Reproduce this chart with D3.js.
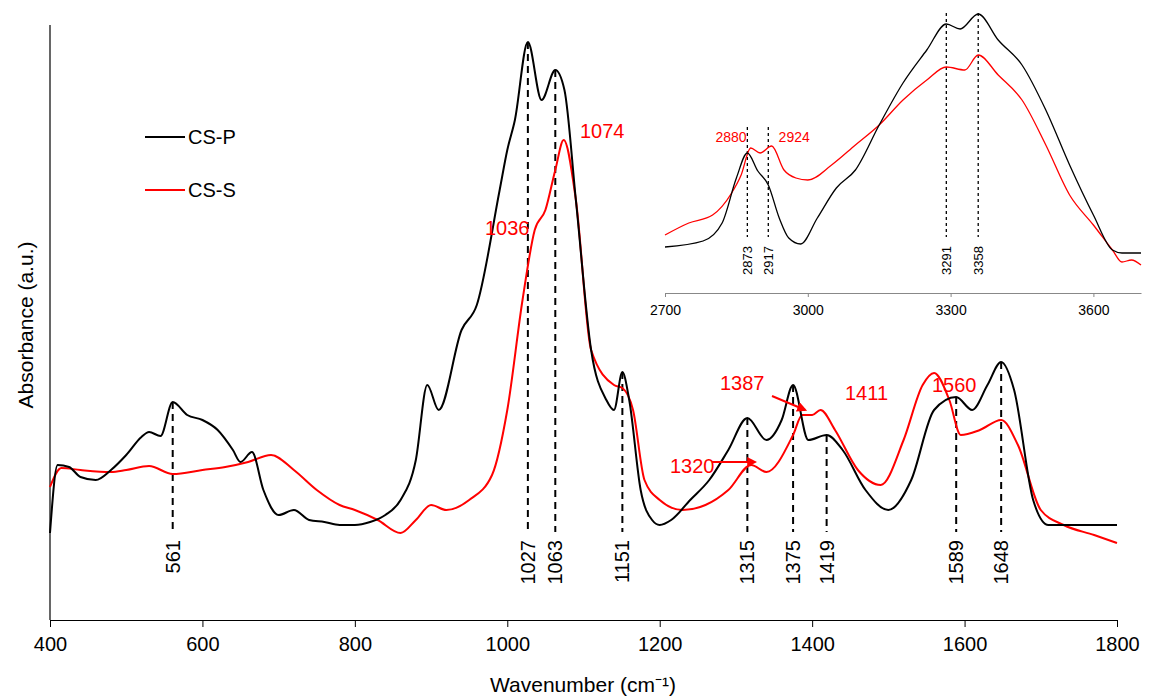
<!DOCTYPE html>
<html><head><meta charset="utf-8">
<script src="https://cdn.jsdelivr.net/npm/d3@7"></script>
<style>body{margin:0;background:#fff}text{font-family:Arial,"Liberation Sans",sans-serif}</style>
</head><body><svg id="c" width="1153" height="698"></svg>
<script>
// Main spectrum (wavenumber, absorbance in arbitrary units)
const wnP = [400,410,425,440,460,480,500,520,530,545,561,580,600,620,640,650,665,680,700,720,740,760,780,800,820,840,860,880,895,910,940,960,990,1000,1010,1027,1045,1063,1075,1090,1110,1130,1140,1151,1160,1175,1190,1200,1215,1240,1265,1290,1315,1340,1360,1375,1395,1419,1440,1470,1500,1530,1560,1589,1610,1630,1648,1665,1690,1710,1800];
const absP = [87,155,153,143,140,150,165,183,188,184,218,205,200,190,170,158,168,130,105,110,100,98,95,95,98,105,120,160,235,210,290,315,430,470,500,578,520,550,530,420,270,220,210,248,220,130,100,95,100,120,140,170,202,180,200,235,180,185,170,130,110,140,210,223,210,235,258,230,120,95,95];
const wnS = [400,415,440,480,500,530,561,600,630,660,690,720,750,780,800,830,860,880,900,920,950,980,1000,1020,1036,1050,1063,1074,1090,1110,1140,1151,1165,1180,1200,1230,1260,1290,1320,1340,1375,1387,1400,1411,1430,1460,1490,1520,1545,1560,1580,1595,1620,1648,1670,1700,1730,1770,1800];
const absS = [133,152,150,148,150,154,146,150,153,158,165,150,130,115,110,100,87,100,115,110,120,145,210,320,390,410,450,480,420,270,235,232,210,140,120,110,115,130,155,148,185,205,205,210,190,150,135,180,235,247,220,185,190,200,175,110,95,85,77];
// Inset spectrum
const wnPi = [2700,2780,2820,2850,2873,2895,2917,2940,2960,2985,3020,3060,3100,3150,3200,3250,3291,3320,3358,3400,3450,3500,3550,3600,3640,3660,3700];
const absPi = [46,52,70,115,140,122,108,75,55,49,75,105,123,168,210,243,269,264,279,253,228,183,128,78,43,40,40];
const wnSi = [2700,2750,2800,2840,2860,2880,2900,2924,2950,2975,3000,3050,3100,3150,3200,3250,3291,3330,3358,3400,3450,3500,3550,3600,3640,3660,3680,3700];
const absSi = [58,70,78,100,118,145,140,147,123,115,113,128,148,168,193,213,226,223,238,218,193,148,98,68,43,31,33,28];

const peaksP = [561,1027,1063,1151,1315,1375,1419,1589,1648];
const peaksPi = [2873,2917,3291,3358];
const peaksSi = [2880,2924];
const xTicks = [400,600,800,1000,1200,1400,1600,1800];
const xTicksIn = [2700,3000,3300,3600];

const svg = d3.select('#c');
const x = d3.scaleLinear().domain([400,1800]).range([50,1117]);
const y = d3.scaleLinear().domain([0,595]).range([620,25]);
const xi = d3.scaleLinear().domain([2700,3700]).range([665,1141]);
const yi = d3.scaleLinear().domain([0,280]).range([293,13]);

// axes
svg.append('line').attr('x1',50).attr('x2',50).attr('y1',25).attr('y2',620).attr('stroke','#000').attr('stroke-width',1.2);
const xa = svg.append('g').attr('transform','translate(0,620)')
  .call(d3.axisBottom(x).tickValues(xTicks).tickFormat(d3.format('d')).tickSize(7).tickSizeOuter(0));
xa.select('.domain').attr('stroke','#000').attr('stroke-width',1.2);
xa.selectAll('text').attr('font-size',20).attr('dy','1.05em');
svg.append('text').attr('x',583).attr('y',692).attr('text-anchor','middle').attr('font-size',21).text('Wavenumber (cm⁻¹)');
svg.append('text').attr('transform','translate(33,325) rotate(-90)').attr('text-anchor','middle').attr('font-size',21).text('Absorbance (a.u.)');

const line = (xs, ys) => d3.line().x(d=>xs(d[0])).y(d=>ys(d[1])).curve(d3.curveMonotoneX);
const zip = (a,b) => a.map((v,i)=>[v,b[i]]);
const valAt = (ws, as, w) => { const i = d3.bisectLeft(ws, w); if (ws[i]===w) return as[i];
  const t=(w-ws[i-1])/(ws[i]-ws[i-1]); return as[i-1]+t*(as[i]-as[i-1]); };

// main dashed peak markers
peaksP.forEach(p => {
  svg.append('line').attr('x1',x(p)).attr('x2',x(p)).attr('y1',y(valAt(wnP,absP,p))).attr('y2',532)
    .attr('stroke','#000').attr('stroke-width',2).attr('stroke-dasharray','7,5');
  svg.append('text').attr('transform',`translate(${x(p)+7},540) rotate(-90)`)
    .attr('text-anchor','end').attr('font-size',20).text(p);
});

svg.append('path').datum(zip(wnS,absS)).attr('d',line(x,y)).attr('fill','none').attr('stroke','#f00').attr('stroke-width',2);
svg.append('path').datum(zip(wnP,absP)).attr('d',line(x,y)).attr('fill','none').attr('stroke','#000').attr('stroke-width',2);

// red labels
const redLab = [[1074,580,138],[1036,485,235],[1320,670,473],[1387,720,390],[1411,845,400],[1560,932,392]];
redLab.forEach(d => svg.append('text').attr('x',d[1]).attr('y',d[2]).attr('fill','#f00').attr('font-size',20).text(d[0]));
svg.append('defs').append('marker').attr('id','ar').attr('viewBox','0 0 10 10').attr('refX',8).attr('refY',5)
  .attr('markerWidth',5).attr('markerHeight',5).attr('orient','auto')
  .append('path').attr('d','M0,0L10,5L0,10z').attr('fill','#f00');
svg.append('line').attr('x1',712).attr('y1',462).attr('x2',x(1320)+4).attr('y2',462).attr('stroke','#f00').attr('stroke-width',2).attr('marker-end','url(#ar)');
svg.append('line').attr('x1',772).attr('y1',396).attr('x2',x(1387)+3).attr('y2',410).attr('stroke','#f00').attr('stroke-width',2).attr('marker-end','url(#ar)');

// legend
[['CS-P','#000',137],['CS-S','#f00',190]].forEach(d => {
  svg.append('line').attr('x1',145).attr('x2',185).attr('y1',d[2]).attr('y2',d[2]).attr('stroke',d[1]).attr('stroke-width',2);
  svg.append('text').attr('x',188).attr('y',d[2]+7).attr('font-size',20).text(d[0]);
});

// inset
const ia = svg.append('g').attr('transform','translate(0,293)')
  .call(d3.axisBottom(xi).tickValues(xTicksIn).tickFormat(d3.format('d')).tickSize(4).tickSizeOuter(0));
ia.select('.domain').attr('stroke','#888');
ia.selectAll('.tick line').attr('stroke','#888');
ia.selectAll('text').attr('font-size',14).attr('fill','#000').attr('dy','1.1em');
peaksPi.forEach(p => {
  svg.append('line').attr('x1',xi(p)).attr('x2',xi(p)).attr('y1',p<3000?127:13).attr('y2',237)
    .attr('stroke','#000').attr('stroke-width',1.3).attr('stroke-dasharray','3,3');
  svg.append('text').attr('transform',`translate(${xi(p)+5},246) rotate(-90)`)
    .attr('text-anchor','end').attr('font-size',13).text(p);
});
svg.append('path').datum(zip(wnSi,absSi)).attr('d',line(xi,yi)).attr('fill','none').attr('stroke','#f00').attr('stroke-width',1.3);
svg.append('path').datum(zip(wnPi,absPi)).attr('d',line(xi,yi)).attr('fill','none').attr('stroke','#000').attr('stroke-width',1.3);
svg.append('text').attr('x',xi(2880)-4).attr('y',142).attr('text-anchor','end').attr('fill','#f00').attr('font-size',14).text(peaksSi[0]);
svg.append('text').attr('x',xi(2924)+7).attr('y',142).attr('fill','#f00').attr('font-size',14).text(peaksSi[1]);
</script></body></html>
